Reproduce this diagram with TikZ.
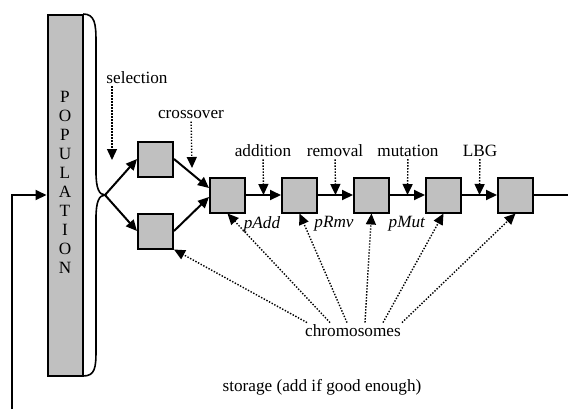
\documentclass[tikz,border=0pt]{standalone}
\usepackage{fontspec}
\setmainfont{Liberation Serif}
\usetikzlibrary{positioning, arrows.meta, calc}
\definecolor{boxgray}{HTML}{C0C0C0}
\tikzset{
	x=0.5pt, y=-0.5pt,
	>={Triangle[length=5.5pt,width=5pt]},
	font=\fontsize{8.6}{10}\selectfont,
	every node/.style={inner sep=1pt},
	cell/.style={draw, line width=1pt, fill=boxgray, minimum size=17.5pt, inner sep=0pt},
	popbox/.style={draw, line width=1pt, fill=boxgray, minimum width=17.5pt, minimum height=180.5pt, inner sep=0pt},
	solidarrow/.style={->, line width=1pt},
	dotarrow/.style={->, line width=0.7pt, dash pattern=on 0.7pt off 0.8pt},
	brace/.style={line width=0.8pt}}

\begin{document}
\begin{tikzpicture}[node distance=36pt, on grid]
		\useasboundingbox (0,0) rectangle (568,409);
		%population
		\node[popbox] (pop) at (65,195) {};
		\node[align=center, font=\fontsize{8.6}{9.5}\selectfont] (poptext) at (65,182) {P\\O\\P\\U\\L\\A\\T\\I\\O\\N};
		\coordinate (fb) at (12,409);
		\draw[solidarrow] (fb) |- (pop);
		
		%brace
		\coordinate (tip) at (105,195);
		\draw[brace] (83,14) .. controls (95,14) and (96,24) .. (96,42) -- (96,172)
			.. controls (96,188) and (99,195) .. (tip)
			.. controls (99,195) and (96,202) .. (96,218) -- (96,350)
			.. controls (96,368) and (95,376) .. (83,376);
		
		%chain
		\node[cell] (b1) at (227.5,195) {};
		\node[cell, right=of b1] (b2) {};
		\node[cell, right=of b2] (b3) {};
		\node[cell, right=of b3] (b4) {};
		\node[cell, right=of b4] (b5) {};
		\node[cell, above left=18pt and 36pt of b1] (up) {};
		\node[cell, below left=18pt and 36pt of b1] (lo) {};
		\coordinate (out) at (568,195);
		\coordinate (m1) at ($(b1)!0.5!(b2)$);
		\coordinate (m2) at ($(b2)!0.5!(b3)$);
		\coordinate (m3) at ($(b3)!0.5!(b4)$);
		\coordinate (m4) at ($(b4)!0.5!(b5)$);
		
		%labels
		\node (sel) at (137,78) {selection};
		\node (cross) at (191,115) {crossover};
		\node (add) at (263,151) {addition};
		\node (rmv) at (335,151) {removal};
		\node (mut) at (408,151) {mutation};
		\node (lbg) at (480,151) {LBG};
		\node (padd) at (262,224) {\textit{pAdd}};
		\node (prmv) at (334,224) {\textit{pRmv}};
		\node (pmut) at (407,224) {\textit{pMut}};
		\node (chrom) at (353,331) {chromosomes};
		\node (store) at (322,387) {storage (add if good enough)};
		\coordinate (selend) at (112,160);
		\coordinate (crossend) at (192,168);
		
		\path[solidarrow]
		(tip) edge (up.west)
		(tip) edge (lo.west)
		(up.east) edge ([yshift=3.5pt]b1.west)
		(lo.east) edge ([yshift=-1pt]b1.west)
		(b1) edge (b2)
		(b2) edge (b3)
		(b3) edge (b4)
		(b4) edge (b5);
		\draw[line width=1pt] (b5) -- (out);
		
		\path[dotarrow]
		([xshift=-12.5pt]sel.south) edge (selend)
		(cross) edge (crossend)
		(add) edge (m1)
		(rmv) edge (m2)
		(mut) edge (m3)
		(lbg) edge (m4)
		([xshift=-23pt]chrom.north) edge (lo.south east)
		([xshift=-11.5pt]chrom.north) edge (b1.south)
		([xshift=-3pt]chrom.north) edge (b2.south)
		([xshift=6pt]chrom.north) edge (b3.south)
		([xshift=15pt]chrom.north) edge (b4.south)
		([xshift=24.5pt]chrom.north) edge (b5.south);
	\end{tikzpicture}
\end{document}
